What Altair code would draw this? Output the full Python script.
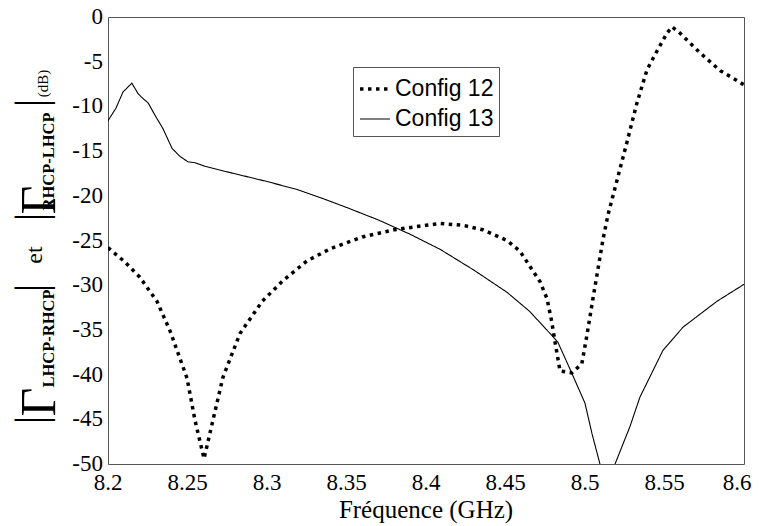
import altair as alt
import pandas as pd

series_names = ["Config 12", "Config 13"]

freq_12 = [8.2, 8.21, 8.22, 8.2308, 8.239, 8.2497, 8.2547, 8.2604, 8.266, 8.2723,
           8.283, 8.297, 8.31, 8.325, 8.34, 8.36, 8.38, 8.40, 8.4088, 8.4233,
           8.4358, 8.451, 8.4591, 8.4654, 8.4717, 8.4761, 8.479, 8.481, 8.4843, 8.4918,
           8.498, 8.5013, 8.505, 8.5113, 8.5145, 8.5176, 8.5264, 8.5327, 8.539, 8.5453,
           8.5516, 8.5547, 8.5597, 8.5723, 8.585, 8.5975, 8.6]
db_12 = [-25.8, -27.3, -29.1, -31.8, -35.1, -40.4, -45.1, -49.4, -45.1, -40.3,
         -35.4, -31.8, -29.5, -27.3, -25.9, -24.6, -23.8, -23.3, -23.1, -23.3,
         -23.8, -25.0, -26.2, -27.9, -29.6, -31.5, -34.0, -36.2, -39.6, -39.8,
         -38.8, -35.5, -31.5, -24.9, -22.1, -20.0, -14.0, -9.6, -5.9, -3.8,
         -1.8, -1.1, -1.8, -4.0, -6.0, -7.3, -7.6]

freq_13 = [8.2, 8.205, 8.2094, 8.215, 8.219, 8.2225, 8.2252, 8.2296, 8.2346, 8.2403,
           8.2453, 8.2503, 8.2547, 8.261, 8.2767, 8.3, 8.319, 8.335, 8.35, 8.37,
           8.39, 8.409, 8.43, 8.451, 8.465, 8.476, 8.483, 8.4906, 8.5, 8.5044,
           8.5094, 8.5125, 8.5189, 8.5283, 8.5346, 8.549, 8.5616, 8.583, 8.6]
db_13 = [-11.6, -10.2, -8.4, -7.4, -8.6, -9.2, -9.6, -11.0, -12.5, -14.7,
         -15.6, -16.2, -16.3, -16.7, -17.4, -18.4, -19.3, -20.3, -21.3, -22.7,
         -24.3, -26.0, -28.3, -30.8, -32.9, -35.0, -36.4, -39.4, -43.2, -46.6,
         -50.0, -57.0, -50.0, -45.8, -42.5, -37.3, -34.7, -31.8, -29.9]

x_ticks = [8.2, 8.25, 8.3, 8.35, 8.4, 8.45, 8.5, 8.55, 8.6]
x_labels = ["8.2", "8.25", "8.3", "8.35", "8.4", "8.45", "8.5", "8.55", "8.6"]
y_ticks = [-50, -45, -40, -35, -30, -25, -20, -15, -10, -5, 0]
y_labels = ["-50", "-45", "-40", "-35", "-30", "-25", "-20", "-15", "-10", "-5", "0"]
x_title = "Fréquence (GHz)"

SERIF = "Liberation Serif"

df = pd.concat([
    pd.DataFrame({"f": freq_12, "db": db_12, "s": series_names[0]}),
    pd.DataFrame({"f": freq_13, "db": db_13, "s": series_names[1]}),
])

xs = alt.Scale(domain=[8.2, 8.6], nice=False, zero=False)
ys = alt.Scale(domain=[-50, 0], nice=False)

legend_cfg = dict(
    title=None, orient="none", legendX=245, legendY=50,
    labelFont="Liberation Sans", labelFontSize=23, labelColor="black",
    symbolType="stroke", symbolSize=900, symbolStrokeColor="black",
    strokeColor="#555", fillColor="white", padding=5, rowPadding=2,
    labelOffset=3,
)

axis_common = dict(
    labels=False, title=None,
    ticks=False, domainColor="#555", grid=True, gridDash=[2, 2], gridColor="#555",
    gridWidth=0.8, gridOpacity=1,
)

lines = alt.Chart(df).mark_line(clip=True, strokeCap="butt", color="black").encode(
    x=alt.X("f:Q", scale=xs, axis=alt.Axis(values=x_ticks, **axis_common)),
    y=alt.Y("db:Q", scale=ys, axis=alt.Axis(values=y_ticks, **axis_common)),
    strokeDash=alt.StrokeDash("s:N", scale=alt.Scale(domain=series_names, range=[[3.5, 4.5], [1, 0]]),
                              legend=alt.Legend(**legend_cfg)),
    strokeWidth=alt.StrokeWidth("s:N", scale=alt.Scale(domain=series_names, range=[3.5, 1.1]),
                                legend=alt.Legend(**legend_cfg)),
)

xlab_df = pd.DataFrame({"v": x_ticks, "t": x_labels})
xlab = alt.Chart(xlab_df).transform_filter("datum.v < 8.59").mark_text(
    font=SERIF, fontSize=23, baseline="middle", align="center", color="black"
).encode(x=alt.X("v:Q", scale=xs, axis=None), y=alt.value(466), text="t:N")
xlab_last = alt.Chart(xlab_df).transform_filter("datum.v >= 8.59").mark_text(
    font=SERIF, fontSize=23, baseline="middle", align="center", color="black", dx=-7
).encode(x=alt.X("v:Q", scale=xs, axis=None), y=alt.value(466), text="t:N")

ylab = alt.Chart(pd.DataFrame({"v": y_ticks, "t": y_labels})).mark_text(
    font=SERIF, fontSize=23, baseline="middle", align="right", color="black"
).encode(y=alt.Y("v:Q", scale=ys, axis=None), x=alt.value(-5), text="t:N")

xtitle = alt.Chart(pd.DataFrame({"t": [x_title]})).mark_text(
    font=SERIF, fontSize=25, baseline="middle", align="center", color="black"
).encode(x=alt.value(318), y=alt.value(493), text="t:N")


def piece(text, x, y, size, weight="normal"):
    return alt.Chart(pd.DataFrame({"t": [text]})).mark_text(
        angle=270, align="center", baseline="alphabetic", font=SERIF,
        fontSize=size, fontWeight=weight, color="black"
    ).encode(x=alt.value(x), y=alt.value(y), text="t:N")


pieces = [
    piece("|", -62.5, 403, 45),
    piece("Γ", -53, 385, 50),
    piece("LHCP-RHCP", -54, 321.5, 16.5, "bold"),
    piece("|", -62.5, 271, 45),
    piece("et", -66, 238, 24),
    piece("|", -62.5, 200, 45),
    piece("Γ", -53, 183, 50),
    piece("RHCP-LHCP", -54, 144.5, 16.5, "bold"),
    piece("|", -62.5, 86, 45),
    piece("(dB)", -60, 66.5, 15),
]

chart = alt.layer(lines, xlab, xlab_last, ylab, xtitle, *pieces).properties(
    width=636, height=447,
    padding={"left": 100, "top": 9, "right": 10, "bottom": 60},
    autosize=alt.AutoSizeParams(type="none"),
).configure_view(
    stroke="#555", strokeWidth=1
)

chart.save("out.html", embed_options={"renderer": "svg", "actions": False})
